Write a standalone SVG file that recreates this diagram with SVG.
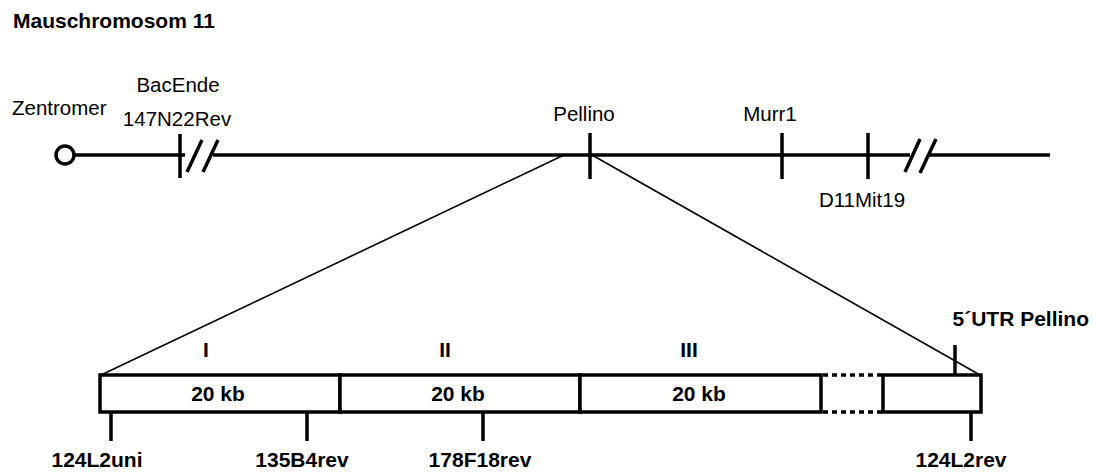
<svg xmlns="http://www.w3.org/2000/svg" width="1093" height="473" viewBox="0 0 1093 473">
<style>
text{font-family:"Liberation Sans",Arial,sans-serif;fill:#000}
.r{font-size:20.5px}
.b{font-size:21px;font-weight:bold}
.m{text-anchor:middle}
.thick{stroke:#000;stroke-width:3.5;fill:none}
.thin{stroke:#000;stroke-width:1.6;fill:none}
.box{stroke:#000;stroke-width:3.5;fill:#fff}
.dot{stroke:#000;stroke-width:3.5;fill:none;stroke-dasharray:5 4}
</style>
<rect width="1093" height="473" fill="#fff"/>
<text id="title" class="b" x="13" y="28">Mauschromosom 11</text>

<g id="connectors">
<line class="thin" x1="564" y1="155" x2="101" y2="375"/>
<line class="thin" x1="592" y1="155" x2="980" y2="375"/>
</g>

<g id="chromosome">
<circle class="thick" cx="65" cy="155" r="9"/>
<line class="thick" x1="74" y1="155" x2="185" y2="155"/>
<line class="thick" x1="213" y1="155" x2="910" y2="155"/>
<line class="thick" x1="928" y1="155" x2="1050" y2="155"/>
<line class="thick" x1="187" y1="172" x2="202" y2="140"/>
<line class="thick" x1="203" y1="172" x2="218" y2="140"/>
<line class="thick" x1="905" y1="172" x2="920" y2="139"/>
<line class="thick" x1="920" y1="173" x2="936" y2="139"/>
</g>

<g id="zentromer"><text class="r" x="12" y="115">Zentromer</text></g>
<g id="bacende">
<line class="thick" x1="180" y1="134" x2="180" y2="178"/>
<text class="r m" x="178" y="92">BacEnde</text>
<text class="r m" x="177" y="126">147N22Rev</text>
</g>
<g id="pellino">
<line class="thick" x1="590" y1="133" x2="590" y2="179"/>
<text class="r m" x="584" y="121">Pellino</text>
</g>
<g id="murr1">
<line class="thick" x1="782" y1="133" x2="782" y2="179"/>
<text class="r m" x="770" y="121">Murr1</text>
</g>
<g id="d11mit19">
<line class="thick" x1="868" y1="133" x2="868" y2="179"/>
<text class="r m" x="862" y="207">D11Mit19</text>
</g>

<g id="seg1">
<rect class="box" x="100" y="375" width="240" height="37"/>
<text class="b m" x="206" y="357">I</text>
<text class="b m" x="218" y="401">20 kb</text>
</g>
<g id="seg2">
<rect class="box" x="340" y="375" width="240" height="37"/>
<text class="b m" x="445" y="357">II</text>
<text class="b m" x="458" y="401">20 kb</text>
</g>
<g id="seg3">
<rect class="box" x="580" y="375" width="241" height="37"/>
<text class="b m" x="689" y="357">III</text>
<text class="b m" x="699" y="401">20 kb</text>
</g>
<g id="gap">
<line class="dot" x1="823" y1="375" x2="883" y2="375"/>
<line class="dot" x1="823" y1="412" x2="883" y2="412"/>
</g>
<g id="seg4">
<rect class="box" x="883" y="375" width="98" height="37"/>
<line class="thick" x1="955" y1="345" x2="955" y2="375"/>
<text class="b" x="1089" y="326" text-anchor="end">5´UTR Pellino</text>
</g>

<g id="m124L2uni">
<line class="thick" x1="111" y1="412" x2="111" y2="441"/>
<text class="b m" x="97" y="467">124L2uni</text>
</g>
<g id="m135B4rev">
<line class="thick" x1="307" y1="412" x2="307" y2="441"/>
<text class="b m" x="302" y="467">135B4rev</text>
</g>
<g id="m178F18rev">
<line class="thick" x1="483" y1="412" x2="483" y2="441"/>
<text class="b m" x="480" y="467">178F18rev</text>
</g>
<g id="m124L2rev">
<line class="thick" x1="971" y1="412" x2="971" y2="441"/>
<text class="b m" x="961" y="467">124L2rev</text>
</g>
</svg>
